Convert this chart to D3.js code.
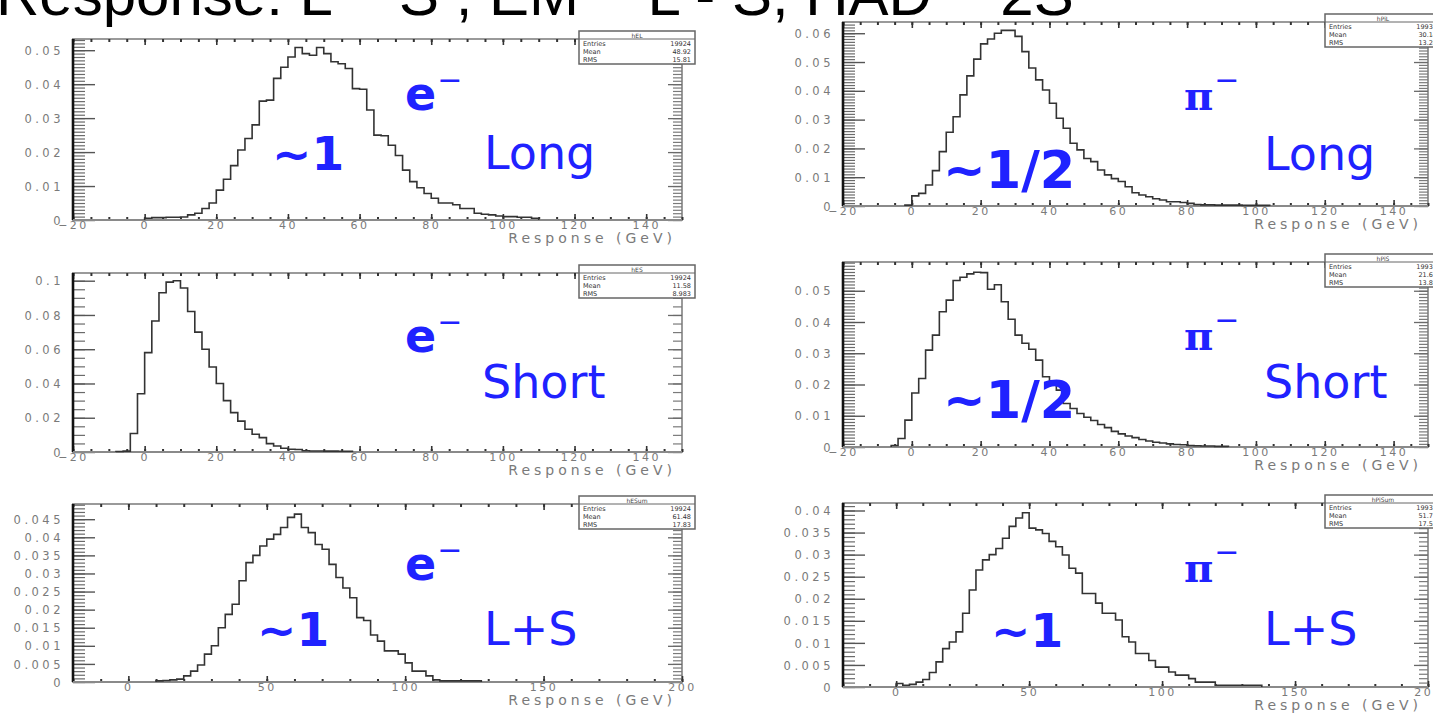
<!DOCTYPE html>
<html><head><meta charset="utf-8">
<script src="https://cdn.jsdelivr.net/npm/d3@7"></script>
<style>
body{margin:0;background:#fff;overflow:hidden}
svg{display:block}
</style></head><body>
<svg id="c" width="1433" height="715"></svg>
<script>
// ---------- bin contents (fraction of events per bin) ----------
// e- , long fibres : bins of 2 GeV starting at 0 GeV
const eLongFirstEdge = 0, eLongBinWidth = 2;
const eLongValues = [0.0005,0.0007,0.0007,0.0008,0.0008,0.0009,0.0015,0.002,0.0034,0.005,
  0.0088,0.012,0.016,0.0206,0.024,0.028,0.035,0.0353,0.0417,0.045,
  0.048,0.0508,0.049,0.0485,0.0508,0.049,0.0466,0.046,0.0446,0.0387,
  0.0385,0.0324,0.025,0.0248,0.022,0.019,0.0147,0.0113,0.0095,0.0078,
  0.0064,0.005,0.005,0.0045,0.0034,0.0034,0.002,0.0017,0.0015,0.0012,
  0.001,0.001,0.0008,0.0008,0.0005];

// e- , short fibres : bins of 2 GeV starting at -8 GeV
const eShortFirstEdge = -8, eShortBinWidth = 2;
const eShortValues = [0.0003,0.0005,0.0108,0.034,0.058,0.0765,0.093,0.0992,0.1,0.0957,
  0.082,0.070,0.060,0.0496,0.040,0.030,0.023,0.018,0.0133,0.0104,
  0.0084,0.0049,0.0035,0.0022,0.0016,0.0015,0.0007,0.0006,0.0006,0.0005,
  0.0005,0.0004,0.0004];

// e- , long + short : bins of 2.5 GeV starting at 10 GeV
const eSumFirstEdge = 10, eSumBinWidth = 2.5;
const eSumValues = [0.0003,0.0004,0.0006,0.0008,0.0017,0.003,0.0047,0.0077,0.010,0.015,
  0.0187,0.0215,0.028,0.033,0.035,0.0376,0.0395,0.0408,0.0427,0.0455,
  0.0464,0.0427,0.0413,0.038,0.0367,0.0325,0.0289,0.026,0.0233,0.0178,
  0.017,0.013,0.0113,0.0086,0.0086,0.0077,0.0053,0.003,0.003,0.0017,
  0.0006,0.0003,0.0003,0.0003,0.0003,0.0003,0.0003];

// pi- , long fibres : bins of 2 GeV starting at -2 GeV
const piLongFirstEdge = -2, piLongBinWidth = 2;
const piLongValues = [0.0003,0.0035,0.0044,0.0073,0.0123,0.0189,0.0256,0.031,0.0386,0.0452,
  0.051,0.0563,0.058,0.060,0.061,0.061,0.0589,0.0536,0.0479,0.0438,
  0.0403,0.0357,0.0305,0.027,0.0218,0.0195,0.0165,0.0154,0.0125,0.0108,
  0.0095,0.0085,0.0067,0.0046,0.0038,0.0032,0.0025,0.0021,0.0015,0.0015,
  0.0012,0.0009,0.0005,0.0004,0.0004,0.0003,0.0003,0.0003,0.0003,0.0002,
  0.0002,0.0002,0.0002];

// pi- , short fibres : bins of 2 GeV starting at -6 GeV
const piShortFirstEdge = -6, piShortBinWidth = 2;
const piShortValues = [0.0005,0.0027,0.0086,0.0173,0.0219,0.031,0.0358,0.0433,0.047,0.0533,
  0.0543,0.0554,0.0559,0.0558,0.0505,0.0519,0.0465,0.0409,0.0358,0.0332,
  0.0313,0.0278,0.0225,0.0209,0.0182,0.0139,0.0123,0.0107,0.0095,0.0085,
  0.0072,0.0062,0.005,0.0042,0.0035,0.003,0.0024,0.0019,0.0015,0.0013,
  0.001,0.0008,0.0007,0.0005,0.0004,0.0003,0.0003,0.0002,0.0002];

// pi- , long + short : bins of 2.5 GeV starting at 0 GeV
const piSumFirstEdge = 0, piSumBinWidth = 2.5;
const piSumValues = [0.0008,0.0004,0.0006,0.0011,0.0017,0.0033,0.0057,0.0087,0.0102,0.0125,
  0.0167,0.022,0.0265,0.0288,0.030,0.0314,0.0337,0.0364,0.0383,0.0395,
  0.036,0.0356,0.0348,0.033,0.0318,0.0299,0.0269,0.0258,0.0212,0.0212,
  0.019,0.0167,0.0167,0.0152,0.0114,0.0102,0.0076,0.0076,0.006,0.0045,
  0.0045,0.0034,0.0027,0.0027,0.0019,0.0011,0.0011,0.0011,0.0004,0.0004,
  0.0004,0.0004,0.0004,0.0004,0.0004];

// ---------- tick labels ----------
const xTicksFibre = [-20,0,20,40,60,80,100,120,140];
const xTicksSum = [0,50,100,150,200];
const yTicksELong = [0,0.01,0.02,0.03,0.04,0.05];
const yTicksEShort = [0,0.02,0.04,0.06,0.08,0.1];
const yTicksESum = [0,0.005,0.01,0.015,0.02,0.025,0.03,0.035,0.04,0.045];
const yTicksPiLong = [0,0.01,0.02,0.03,0.04,0.05,0.06];
const yTicksPiShort = [0,0.01,0.02,0.03,0.04,0.05];
const yTicksPiSum = [0,0.005,0.01,0.015,0.02,0.025,0.03,0.035,0.04];

// ---------- text ----------
const titleText = "Response: L ~ S , EM ~ L - S, HAD ~ 2S";
const axisTitle = "Response (GeV)";
const statNames = ["hEL","hES","hESum","hPiL","hPiS","hPiSum"];
const statEntries = ["19924","19924","19924","19937","19937","19937"];
const statMeans = ["48.92","11.58","61.48","30.14","21.67","51.71"];
const statRms = ["15.81","8.983","17.83","13.28","13.85","17.52"];

// ---------- layout ----------
const panels = [
  {first:eLongFirstEdge, width:eLongBinWidth, values:eLongValues, xDomain:[-20,150], xTicks:xTicksFibre, xMinor:5,
   yMax:0.0533, yTicks:yTicksELong, yMinor:0.001, f:{x0:73,x1:682,y0:39,y1:220},
   particle:"e", partPos:[405,110], ratio:"~1", ratioPos:[272,170], fibre:"Long", fibrePos:[484,169], stat:0},
  {first:eShortFirstEdge, width:eShortBinWidth, values:eShortValues, xDomain:[-20,150], xTicks:xTicksFibre, xMinor:5,
   yMax:0.1045, yTicks:yTicksEShort, yMinor:0.005, f:{x0:73,x1:682,y0:273,y1:452},
   particle:"e", partPos:[405,352], ratio:null, fibre:"Short", fibrePos:[482,398], stat:1},
  {first:eSumFirstEdge, width:eSumBinWidth, values:eSumValues, xDomain:[-20,200], xTicks:xTicksSum, xMinor:10,
   yMax:0.0492, yTicks:yTicksESum, yMinor:0.001, f:{x0:73,x1:682,y0:504,y1:682},
   particle:"e", partPos:[405,580], ratio:"~1", ratioPos:[257,646], fibre:"L+S", fibrePos:[484,645], stat:2},
  {first:piLongFirstEdge, width:piLongBinWidth, values:piLongValues, xDomain:[-20,150], xTicks:xTicksFibre, xMinor:5,
   yMax:0.0639, yTicks:yTicksPiLong, yMinor:0.001, f:{x0:843,x1:1428,y0:22,y1:206},
   particle:"π", partPos:[1184,110], ratio:"~1/2", ratioPos:[943,188], fibre:"Long", fibrePos:[1264,170], stat:3},
  {first:piShortFirstEdge, width:piShortBinWidth, values:piShortValues, xDomain:[-20,150], xTicks:xTicksFibre, xMinor:5,
   yMax:0.0592, yTicks:yTicksPiShort, yMinor:0.001, f:{x0:843,x1:1428,y0:262,y1:447},
   particle:"π", partPos:[1184,350], ratio:"~1/2", ratioPos:[943,418], fibre:"Short", fibrePos:[1264,398], stat:4},
  {first:piSumFirstEdge, width:piSumBinWidth, values:piSumValues, xDomain:[-20,200], xTicks:xTicksSum, xMinor:10,
   yMax:0.0417, yTicks:yTicksPiSum, yMinor:0.001, f:{x0:843,x1:1428,y0:503,y1:687},
   particle:"π", partPos:[1184,582], ratio:"~1", ratioPos:[991,647], fibre:"L+S", fibrePos:[1264,645], stat:5}
];

const svg = d3.select("#c");
const BLUE = "#1f22ff";
const LABEL_FONT = "'DejaVu Sans', sans-serif";

function fmt(v){ return v === 0 ? "0" : String(+v.toFixed(4)); }
function steps(max, step){ const n = Math.floor(max/step + 1e-6); return d3.range(n+1).map(i => +(i*step).toFixed(6)); }
function styleTicks(sel, color, w){
  sel.select(".domain").remove();
  sel.selectAll(".tick line").attr("stroke", color).attr("stroke-width", w);
}

panels.forEach(p => {
  const f = p.f;
  const g = svg.append("g");
  const x = d3.scaleLinear().domain(p.xDomain).range([f.x0, f.x1]);
  const y = d3.scaleLinear().domain([0, p.yMax]).range([f.y1, f.y0]);

  // frame
  g.append("rect").attr("x", f.x0).attr("y", f.y0).attr("width", f.x1 - f.x0).attr("height", f.y1 - f.y0)
    .attr("fill", "none").attr("stroke", "#9a9a9a").attr("stroke-width", 2);

  const yMinorVals = steps(p.yMax, p.yMinor);
  const xMinorVals = d3.range(Math.ceil(p.xDomain[0]/p.xMinor), Math.floor(p.xDomain[1]/p.xMinor)+1).map(i => i*p.xMinor);

  // left axis: minor ticks, major ticks with labels
  g.append("g").attr("transform", `translate(${f.x0},0)`)
    .call(d3.axisLeft(y).tickValues(yMinorVals).tickSize(-12).tickFormat(""))
    .call(s => styleTicks(s, "#6a6a6a", 1.2));
  const yl = g.append("g").attr("transform", `translate(${f.x0},0)`)
    .call(d3.axisLeft(y).tickValues(p.yTicks).tickSize(-22).tickPadding(9).tickFormat(fmt))
    .call(s => styleTicks(s, "#555", 1.4));
  yl.selectAll("text").attr("font-family", LABEL_FONT).attr("font-size", 11.5).attr("fill", "#7a7a7a")
    .attr("letter-spacing", "3.5px").attr("dy", "0.36em");

  // right axis ticks (mirrored, no labels)
  g.append("g").attr("transform", `translate(${f.x1},0)`)
    .call(d3.axisRight(y).tickValues(yMinorVals).tickSize(-9).tickFormat(""))
    .call(s => styleTicks(s, "#7a7a7a", 1.2));
  g.append("g").attr("transform", `translate(${f.x1},0)`)
    .call(d3.axisRight(y).tickValues(p.yTicks).tickSize(-14).tickFormat(""))
    .call(s => styleTicks(s, "#6a6a6a", 1.3));

  // bottom axis
  g.append("g").attr("transform", `translate(0,${f.y1})`)
    .call(d3.axisBottom(x).tickValues(xMinorVals).tickSize(-3).tickFormat(""))
    .call(s => styleTicks(s, "#333", 2));
  const xl = g.append("g").attr("transform", `translate(0,${f.y1})`)
    .call(d3.axisBottom(x).tickValues(p.xTicks).tickSize(-6).tickPadding(1).tickFormat(d3.format("d")))
    .call(s => styleTicks(s, "#333", 1.6));
  xl.selectAll("text").attr("font-family", LABEL_FONT).attr("font-size", 11).attr("fill", "#7a7a7a")
    .attr("letter-spacing", "2.5px");

  // top axis
  g.append("g").attr("transform", `translate(0,${f.y0})`)
    .call(d3.axisTop(x).tickValues(xMinorVals).tickSize(-3).tickFormat(""))
    .call(s => styleTicks(s, "#333", 2));
  g.append("g").attr("transform", `translate(0,${f.y0})`)
    .call(d3.axisTop(x).tickValues(p.xTicks).tickSize(-6).tickFormat(""))
    .call(s => styleTicks(s, "#333", 1.6));

  // heavy left axis line, lighter bottom line
  g.append("line").attr("x1", f.x0).attr("x2", f.x0).attr("y1", f.y0).attr("y2", f.y1)
    .attr("stroke", "#111").attr("stroke-width", 2.6);
  g.append("line").attr("x1", f.x0).attr("x2", f.x1).attr("y1", f.y1).attr("y2", f.y1)
    .attr("stroke", "#8a8a8a").attr("stroke-width", 2);

  // histogram outline
  const n = p.values.length;
  const pts = [[p.first, 0]].concat(p.values.map((v, i) => [p.first + i*p.width, v]), [[p.first + n*p.width, 0]]);
  g.append("path").datum(pts)
    .attr("d", d3.line().x(d => x(d[0])).y(d => y(d[1])).curve(d3.curveStepAfter))
    .attr("fill", "none").attr("stroke", "#333").attr("stroke-width", 1.6);

  // axis title
  g.append("text").attr("x", f.x1 - 6).attr("y", f.y1 + 23).attr("text-anchor", "end")
    .attr("font-family", LABEL_FONT).attr("font-size", 14).attr("fill", "#7a7a7a")
    .attr("letter-spacing", "4px").text(axisTitle);

  // particle label with superscript minus
  const pt = g.append("text").attr("x", p.partPos[0]).attr("y", p.partPos[1]).attr("fill", BLUE);
  if (p.particle === "e") {
    pt.attr("font-family", LABEL_FONT).attr("font-weight", "bold").attr("font-size", 46);
  } else {
    pt.attr("font-family", "'DejaVu Serif', serif").attr("font-weight", "bold").attr("font-size", 40);
  }
  pt.append("tspan").text(p.particle);
  pt.append("tspan").attr("dy", -20).attr("dx", 1).attr("font-size", 30).attr("font-weight", "normal")
    .attr("font-family", LABEL_FONT).text("\u2212");

  // fibre label
  g.append("text").attr("x", p.fibrePos[0]).attr("y", p.fibrePos[1]).attr("fill", BLUE)
    .attr("font-family", LABEL_FONT).attr("font-size", 46).text(p.fibre);

  // response ratio label
  if (p.ratio) {
    g.append("text").attr("x", p.ratioPos[0]).attr("y", p.ratioPos[1]).attr("fill", BLUE)
      .attr("font-family", LABEL_FONT).attr("font-weight", "bold")
      .attr("font-size", p.ratio.length > 2 ? 51 : 47).text(p.ratio);
  }

  // statistics box
  const bx = f.x1 - 103, by = f.y0 - 8, bw = 116, bh = 33;
  const sb = g.append("g");
  sb.append("rect").attr("x", bx).attr("y", by).attr("width", bw).attr("height", bh)
    .attr("fill", "#fff").attr("stroke", "#666").attr("stroke-width", 1.5);
  sb.append("line").attr("x1", bx).attr("x2", bx + bw).attr("y1", by + 8).attr("y2", by + 8)
    .attr("stroke", "#666").attr("stroke-width", 1);
  sb.append("text").attr("x", bx + bw/2).attr("y", by + 6.5).attr("text-anchor", "middle")
    .attr("font-family", LABEL_FONT).attr("font-size", 6).attr("fill", "#444").text(statNames[p.stat]);
  const rows = [["Entries", statEntries[p.stat]], ["Mean", statMeans[p.stat]], ["RMS", statRms[p.stat]]];
  rows.forEach((r, i) => {
    sb.append("text").attr("x", bx + 4).attr("y", by + 15 + i*8).attr("font-family", LABEL_FONT)
      .attr("font-size", 6.5).attr("fill", "#333").text(r[0]);
    sb.append("text").attr("x", bx + bw - 4).attr("y", by + 15 + i*8).attr("text-anchor", "end")
      .attr("font-family", LABEL_FONT).attr("font-size", 6.5).attr("fill", "#333").text(r[1]);
  });
});

// page title (runs off the top edge)
svg.append("text").attr("x", -4).attr("y", 15).attr("font-family", "'Liberation Sans', Arial, sans-serif")
  .attr("font-size", 60).attr("fill", "#000").text(titleText);
</script>
</body></html>
